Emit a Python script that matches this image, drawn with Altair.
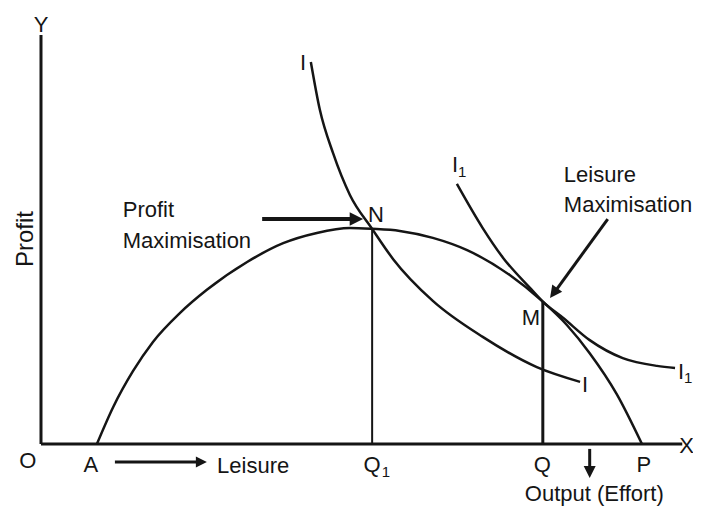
import altair as alt
import pandas as pd

# ---------------- data (in diagram units) ----------------
# Profit curve A -> N -> M -> P
profit_x = [0.93, 1.20, 1.53, 1.86, 2.31, 2.76, 3.43, 4.03, 4.59, 5.14, 5.51, 5.97, 6.52, 7.09, 7.80, 8.35, 8.75, 9.13, 9.58, 10.00]
profit_y = [0.00, 0.90, 1.78, 2.49, 3.20, 3.77, 4.45, 4.91, 5.16, 5.28, 5.26, 5.21, 5.04, 4.74, 4.13, 3.48, 2.91, 2.22, 1.22, 0.00]

# Indifference curve I
ic_x = [4.49, 4.64, 4.86, 5.14, 5.51, 5.86, 6.52, 7.35, 8.25, 8.97]
ic_y = [9.34, 8.17, 7.11, 6.09, 5.26, 4.52, 3.50, 2.62, 1.88, 1.52]

# Indifference curve I1
ic1_x = [6.92, 7.35, 7.69, 8.14, 8.35, 8.69, 9.13, 9.68, 10.25, 10.55]
ic1_y = [6.36, 5.28, 4.55, 3.81, 3.48, 3.08, 2.54, 2.10, 1.91, 1.86]

# Axes (x, y, x2, y2)
axis_x = [0.0, 0.0]
axis_y = [0.0, 0.0]
axis_x2 = [0.0, 10.67]
axis_y2 = [10.0, 0.0]

# Drop lines from N (Q1) and M (Q)
drop_x = [5.51, 8.35]
drop_top = [5.26, 3.48]

# Arrows: start, neck (end of shaft), tip
arrow_name = ["profit_max", "leisure_max", "leisure", "output"]
arrow_x0 = [3.68, 9.43, 1.23, 9.13]
arrow_y0 = [5.50, 5.50, -0.44, -0.12]
arrow_xn = [5.17, 8.58, 2.58, 9.13]
arrow_yn = [5.50, 3.78, -0.44, -0.56]
arrow_xt = [5.36, 8.47, 2.76, 9.13]
arrow_yt = [5.50, 3.57, -0.44, -0.83]
arrow_angle = [0, 126, 0, 90]
arrow_head = [180, 150, 121, 144]
arrow_shaft = [4, 3, 3, 3]

# Text labels
lab_center_text = ["Y", "O", "A", "Q", "Q", "P"]
lab_center_x = [0.00, -0.22, 0.83, 5.51, 8.34, 10.03]
lab_center_y = [10.07, -0.59, -0.68, -0.68, -0.68, -0.68]

lab_left_text = ["X", "Leisure", "Output (Effort)", "M", "I", "I", "I", "I", "N",
                 "Profit", "Maximisation", "Leisure", "Maximisation"]
lab_left_x = [10.62, 2.93, 8.05, 8.00, 9.00, 10.60, 4.31, 6.84, 5.44,
              1.36, 1.36, 8.70, 8.70]
lab_left_y = [-0.22, -0.71, -1.40, 2.91, 1.27, 1.59, 9.14, 6.65, 5.43,
              5.55, 4.79, 6.41, 5.67]

sub_text = ["1", "1", "1"]
sub_x = [5.67, 10.70, 6.94]
sub_y = [-0.81, 1.49, 6.53]

ylab_text = ["Profit"]
ylab_x = [-0.13]
ylab_y = [5.01]

# ---------------- layout ----------------
XDOM = [-0.549, 10.849]
YDOM = [-1.540, 10.660]
INK = "#151515"
FONT = "Liberation Sans, Arial, Helvetica, sans-serif"
FS = 22

sx = alt.Scale(domain=XDOM, nice=False, zero=False)
sy = alt.Scale(domain=YDOM, nice=False, zero=False)


def X(f):
    return alt.X(f, type="quantitative", scale=sx, axis=None)


def Y(f):
    return alt.Y(f, type="quantitative", scale=sy, axis=None)


def curve(xs, ys, width=2.5):
    df = pd.DataFrame({"x": xs, "y": ys})
    return alt.Chart(df).mark_line(interpolate="monotone", color=INK, strokeWidth=width).encode(
        x=X("x"), y=Y("y"))


def rules(xs, ys, x2s, y2s, width):
    df = pd.DataFrame({"x": xs, "y": ys, "x2": x2s, "y2": y2s})
    return alt.Chart(df).mark_rule(color=INK, strokeWidth=width).encode(
        x=X("x"), y=Y("y"), x2="x2:Q", y2="y2:Q")


layers = []
layers.append(rules(axis_x, axis_y, axis_x2, axis_y2, 3))
layers.append(rules([drop_x[0]], [0.0], [drop_x[0]], [drop_top[0]], 2))
layers.append(rules([drop_x[1]], [0.0], [drop_x[1]], [drop_top[1]], 3))
layers.append(curve(profit_x, profit_y))
layers.append(curve(ic_x, ic_y))
layers.append(curve(ic1_x, ic1_y))

HEAD = "M0,0L-2,-1L-2,1Z"
for i in range(len(arrow_name)):
    layers.append(rules([arrow_x0[i]], [arrow_y0[i]], [arrow_xn[i]], [arrow_yn[i]], arrow_shaft[i]))
    hdf = pd.DataFrame({"x": [arrow_xt[i]], "y": [arrow_yt[i]]})
    layers.append(alt.Chart(hdf).mark_point(shape=HEAD, filled=True, color=INK, opacity=1,
                                            size=arrow_head[i], angle=arrow_angle[i],
                                            strokeWidth=0).encode(x=X("x"), y=Y("y")))

tc = pd.DataFrame({"t": lab_center_text, "x": lab_center_x, "y": lab_center_y})
layers.append(alt.Chart(tc).mark_text(font=FONT, fontSize=FS, color=INK, align="center",
                                      baseline="alphabetic").encode(x=X("x"), y=Y("y"), text="t:N"))
tl = pd.DataFrame({"t": lab_left_text, "x": lab_left_x, "y": lab_left_y})
layers.append(alt.Chart(tl).mark_text(font=FONT, fontSize=FS, color=INK, align="left",
                                      baseline="alphabetic").encode(x=X("x"), y=Y("y"), text="t:N"))
ts = pd.DataFrame({"t": sub_text, "x": sub_x, "y": sub_y})
layers.append(alt.Chart(ts).mark_text(font=FONT, fontSize=15, color=INK, align="left",
                                      baseline="alphabetic").encode(x=X("x"), y=Y("y"), text="t:N"))
ty = pd.DataFrame({"t": ylab_text, "x": ylab_x, "y": ylab_y})
layers.append(alt.Chart(ty).mark_text(font=FONT, fontSize=24, color=INK, align="center",
                                      baseline="alphabetic", angle=270).encode(x=X("x"), y=Y("y"), text="t:N"))

chart = alt.layer(*layers).properties(
    width=685, height=499, padding=0, autosize=alt.AutoSizeParams(type="none"),
    background="white",
).configure_view(strokeWidth=0)

chart.save("out.html", embed_options={"renderer": "svg", "actions": False})
